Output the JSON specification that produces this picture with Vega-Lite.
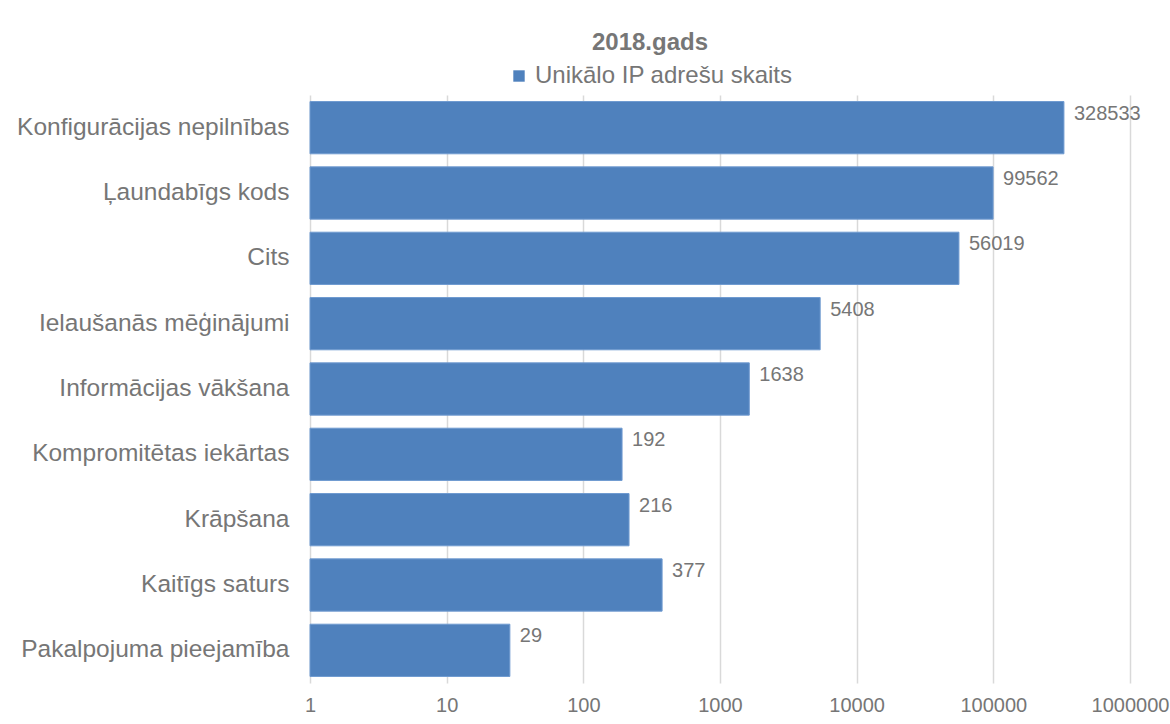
{
  "$schema": "https://vega.github.io/schema/vega-lite/v6.json",
  "width": 820,
  "height": 588,
  "autosize": {"type": "none"},
  "padding": {"left": 310, "top": 95, "right": 40, "bottom": 41},
  "background": "white",
  "title": {
    "text": "2018.gads",
    "anchor": "middle",
    "frame": "group",
    "dx": -70,
    "offset": 9,
    "fontSize": 24,
    "font": "Liberation Sans",
    "fontWeight": "bold",
    "color": "#767676"
  },
  "data": {
    "values": [
      {"kategorija": "Konfigurācijas nepilnības", "skaits": 328533, "serija": "Unikālo IP adrešu skaits"},
      {"kategorija": "Ļaundabīgs kods", "skaits": 99562, "serija": "Unikālo IP adrešu skaits"},
      {"kategorija": "Cits", "skaits": 56019, "serija": "Unikālo IP adrešu skaits"},
      {"kategorija": "Ielaušanās mēģinājumi", "skaits": 5408, "serija": "Unikālo IP adrešu skaits"},
      {"kategorija": "Informācijas vākšana", "skaits": 1638, "serija": "Unikālo IP adrešu skaits"},
      {"kategorija": "Kompromitētas iekārtas", "skaits": 192, "serija": "Unikālo IP adrešu skaits"},
      {"kategorija": "Krāpšana", "skaits": 216, "serija": "Unikālo IP adrešu skaits"},
      {"kategorija": "Kaitīgs saturs", "skaits": 377, "serija": "Unikālo IP adrešu skaits"},
      {"kategorija": "Pakalpojuma pieejamība", "skaits": 29, "serija": "Unikālo IP adrešu skaits"}
    ]
  },
  "encoding": {
    "y": {
      "field": "kategorija",
      "type": "nominal",
      "sort": null,
      "title": null,
      "scale": {"paddingInner": 0.2, "paddingOuter": 0.1},
      "axis": {
        "ticks": false,
        "domain": false,
        "labelFontSize": 24.5,
        "labelFont": "Liberation Sans",
        "labelColor": "#767676",
        "labelPadding": 21,
        "labelLimit": 400
      }
    },
    "x": {
      "field": "skaits",
      "type": "quantitative",
      "title": null,
      "scale": {"type": "log", "domain": [1, 1000000]},
      "axis": {
        "values": [1, 10, 100, 1000, 10000, 100000, 1000000],
        "format": "d",
        "grid": true,
        "gridColor": "#d9d9d9",
        "gridWidth": 1.5,
        "domain": false,
        "ticks": false,
        "labelFontSize": 20,
        "labelFont": "Liberation Sans",
        "labelColor": "#767676",
        "labelPadding": 12,
        "labelFlush": false
      }
    }
  },
  "layer": [
    {
      "mark": {"type": "bar", "color": "#4f81bd", "stroke": "#6f9ad0", "strokeWidth": 1},
      "encoding": {
        "x2": {"datum": 1},
        "color": {
          "field": "serija",
          "type": "nominal",
          "scale": {"range": ["#4f81bd"]},
          "legend": {
            "title": null,
            "orient": "none",
            "legendX": 197,
            "legendY": -31,
            "direction": "horizontal",
            "symbolType": "square",
            "symbolSize": 130,
            "symbolStrokeWidth": 0,
            "labelFontSize": 24,
            "labelFont": "Liberation Sans",
            "labelColor": "#767676",
            "labelOffset": 4,
            "labelLimit": 500
          }
        }
      }
    },
    {
      "mark": {
        "type": "text",
        "align": "left",
        "baseline": "middle",
        "dx": 10,
        "dy": -14,
        "fontSize": 20,
        "font": "Liberation Sans",
        "color": "#767676"
      },
      "encoding": {
        "text": {"field": "skaits", "type": "quantitative", "format": "d"}
      }
    }
  ],
  "config": {
    "view": {"stroke": null}
  }
}
